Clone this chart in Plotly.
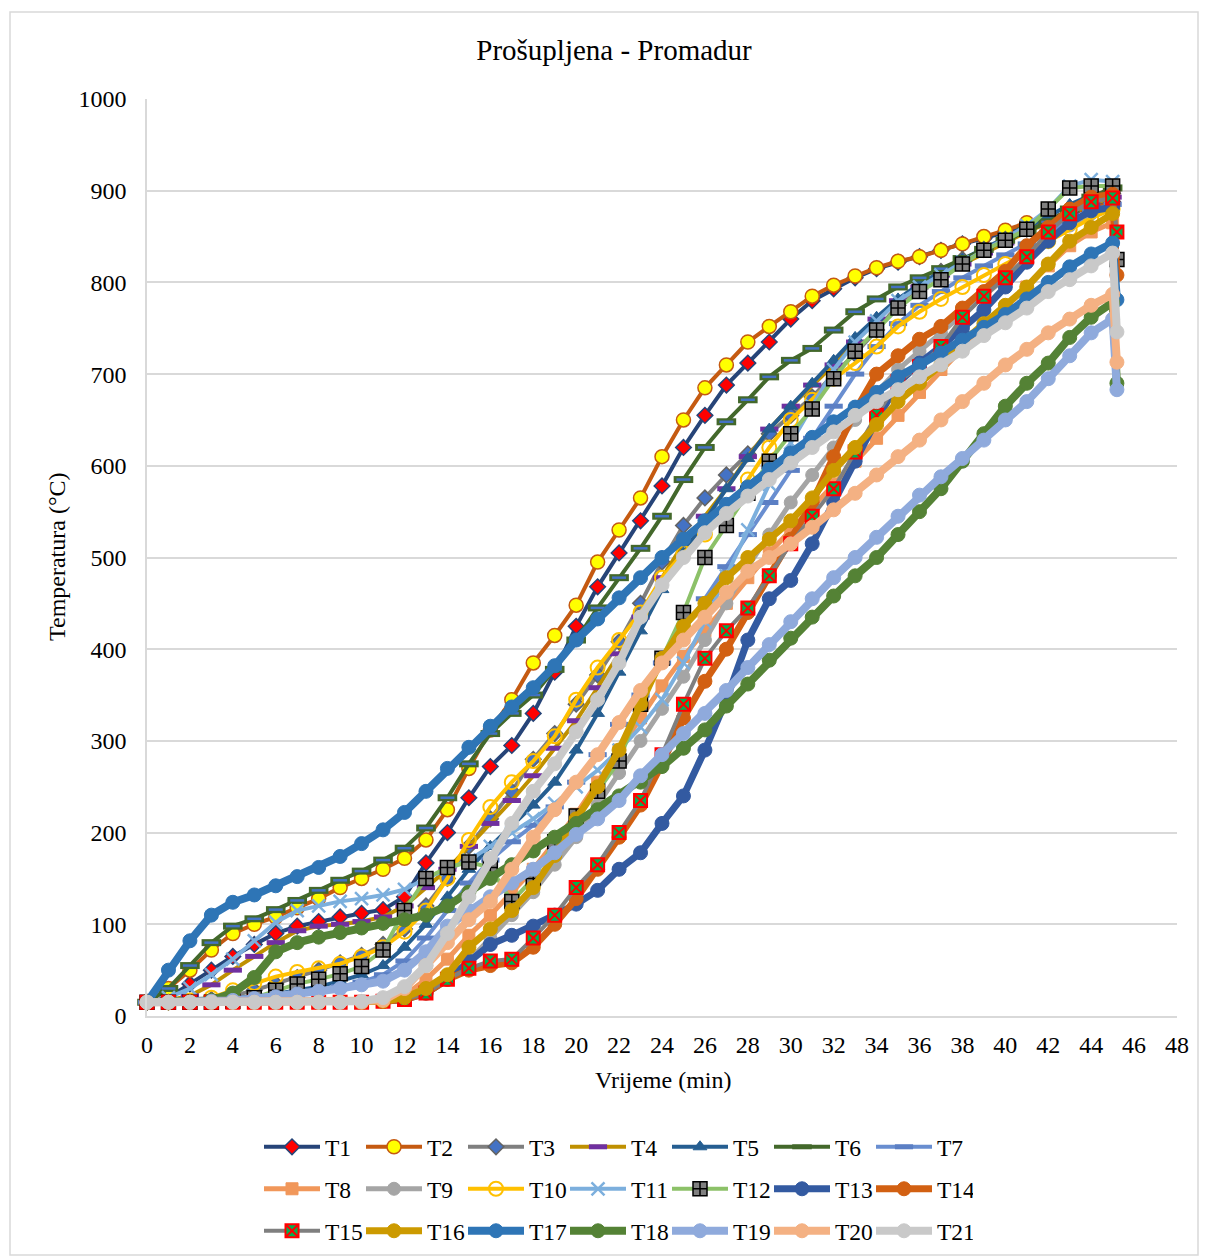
import plotly.graph_objects as go

minutes = list(range(46))
end_minute = 45.2

t1 = [15,20,35,50,65,78,90,98,103,108,112,116,130,167,200,238,272,295,330,375,425,468,505,540,578,620,655,688,712,735,760,780,793,805,815,822,828,835,842,848,855,862,868,875,882,888]
t2 = [15,30,50,72,90,100,108,118,128,140,150,160,172,192,225,270,312,345,385,415,448,495,530,565,610,650,685,710,735,752,768,785,797,807,816,823,828,835,842,850,857,865,870,876,882,886]
t3 = [15,15,16,18,22,28,35,42,50,58,66,78,95,120,150,185,215,245,280,308,340,372,408,450,495,535,565,590,613,635,655,675,700,722,748,775,797,812,825,836,847,858,868,878,888,897]
t4 = [15,17,22,34,50,65,80,93,98,100,103,108,120,140,160,185,210,235,262,292,322,358,395,435,478,515,545,575,610,640,665,688,710,735,760,780,795,808,820,832,843,855,865,875,885,893]
t5 = [15,15,16,17,19,21,24,28,32,38,45,55,75,100,130,160,185,208,230,255,290,330,375,420,465,505,540,575,608,640,665,690,715,740,762,782,798,812,825,837,848,860,872,885,895,900]
t6 = [15,30,55,80,98,106,116,126,137,148,158,170,183,205,238,275,308,330,350,378,410,445,478,510,545,585,620,648,672,697,715,728,748,768,782,795,805,815,826,836,846,856,866,880,893,903]
t7 = [15,15,15,16,17,19,22,25,28,32,37,45,60,85,115,145,170,190,208,228,255,285,318,350,385,420,455,490,525,560,595,630,665,700,730,755,775,790,805,818,830,842,855,868,878,885]
t8 = [15,15,15,15,15,15,15,15,15,15,15,16,22,40,62,88,110,135,160,190,220,255,290,325,360,392,420,450,478,505,530,555,580,605,630,655,680,705,728,750,772,795,818,840,855,865]
t9 = [15,15,15,15,15,15,15,15,15,15,15,16,18,25,40,60,85,110,135,165,195,230,265,300,335,370,410,450,490,525,560,590,620,650,680,705,725,745,765,785,805,825,845,862,875,882]
t10 = [15,15,17,20,28,36,43,48,52,57,65,75,92,115,150,192,228,255,278,305,345,380,410,440,478,505,525,552,585,620,650,672,695,712,730,752,768,782,795,808,820,832,845,858,870,880]
t11 = [15,20,30,45,62,82,102,115,120,125,128,132,138,150,160,170,185,200,215,232,250,268,290,315,345,385,430,480,530,580,625,665,705,735,758,780,795,808,822,835,848,862,880,905,912,910]
t12 = [15,15,15,15,16,20,28,35,40,46,54,72,115,150,162,168,162,125,150,190,218,245,278,340,390,440,500,535,570,605,635,662,695,725,748,772,790,803,820,835,846,858,880,903,905,905]
t13 = [15,15,15,15,15,15,15,15,15,15,15,16,18,25,40,60,78,88,98,110,122,137,160,178,210,240,290,345,410,455,475,515,560,605,650,690,712,730,750,770,795,822,845,865,878,882]
t14 = [15,15,15,15,15,15,15,15,15,15,15,16,18,25,40,50,55,58,75,100,128,160,195,230,275,325,365,400,440,480,520,560,610,660,700,720,738,752,772,790,812,840,860,880,893,896]
t15 = [15,15,15,15,15,15,15,15,15,15,15,16,18,25,40,52,60,62,85,110,140,165,200,235,285,340,390,420,445,480,515,545,575,615,655,692,708,730,762,785,805,828,855,875,888,892]
t16 = [15,15,15,15,15,15,15,15,15,15,15,16,20,30,45,75,95,115,140,175,215,250,290,340,390,425,450,478,500,520,540,565,595,620,645,670,690,710,735,755,775,795,820,845,860,875]
t17 = [15,50,82,110,124,132,142,152,162,174,188,203,222,245,270,293,316,337,358,382,410,433,456,478,500,520,540,558,577,596,614,631,648,664,680,697,710,723,737,751,765,782,800,817,831,843]
t18 = [15,15,15,17,25,42,70,80,86,91,96,101,105,110,120,135,150,165,180,195,210,225,240,255,272,292,312,338,362,388,412,435,458,480,500,525,550,575,605,635,665,690,712,740,762,778]
t19 = [15,15,15,16,17,19,21,24,27,30,34,38,50,70,98,115,130,145,160,178,198,215,235,262,285,308,330,355,380,405,430,455,478,500,522,545,568,588,608,628,650,670,695,720,745,760]
t20 = [15,15,15,15,15,15,15,15,15,15,15,17,30,55,80,105,125,160,195,225,255,285,320,355,385,410,435,462,485,500,515,533,552,570,590,610,628,650,670,690,710,727,745,760,775,787]
t21 = [15,15,15,15,15,15,15,15,15,15,16,20,32,55,90,130,172,210,245,275,310,345,385,435,470,500,527,548,567,585,603,620,637,655,670,683,697,710,725,742,756,772,790,803,818,832]

names = ["T%d" % i for i in range(1, 22)]
series = [t1, t2, t3, t4, t5, t6, t7, t8, t9, t10, t11, t12, t13, t14, t15, t16, t17, t18, t19, t20, t21]
# final reading (drop) at end_minute, None where the series has none
end_temps = [None, None, None, None, None, None, None, None, None, None, None, 825,
             None, 808, 855, None, 781, 690, 683, 713, 746]

styles = [
    dict(lc='#264478', lw=4, sym='diamond', fc='#FF0000', ml='#264478', mw=1.5, sz=12),
    dict(lc='#C55A11', lw=4, sym='circle', fc='#FFFF00', ml='#C55A11', mw=1.5, sz=14),
    dict(lc='#7F7F7F', lw=4, sym='diamond', fc='#4472C4', ml='#636363', mw=1.5, sz=12),
    dict(lc='#BF9000', lw=4, sym='line-ew', fc='#7030A0', ml='#7030A0', mw=5, sz=13),
    dict(lc='#255E91', lw=4, sym='triangle-up', fc='#255E91', ml='#255E91', mw=1, sz=12),
    dict(lc='#43682B', lw=4, sym='line-ew', fc='#43682B', ml='#43682B', mw=7, sz=14),
    dict(lc='#698ED0', lw=4, sym='line-ew', fc='#5B7FC4', ml='#5B7FC4', mw=5, sz=13),
    dict(lc='#F1975A', lw=5, sym='square', fc='#F1975A', ml='#F1975A', mw=1, sz=12),
    dict(lc='#A5A5A5', lw=5, sym='circle', fc='#A5A5A5', ml='#A5A5A5', mw=1, sz=13),
    dict(lc='#FFC000', lw=4, sym='circle-open', fc='#FFC000', ml='#FFC000', mw=2, sz=14),
    dict(lc='#7CAFDD', lw=4, sym='x-thin', fc='#7CAFDD', ml='#7CAFDD', mw=2.5, sz=13),
    dict(lc='#8CC168', lw=4, sym='square-cross', fc='#808080', ml='#000000', mw=1.5, sz=14),
    dict(lc='#335AA1', lw=7, sym='circle', fc='#335AA1', ml='#335AA1', mw=1, sz=14),
    dict(lc='#D26012', lw=7, sym='circle', fc='#D26012', ml='#D26012', mw=1, sz=14),
    dict(lc='#7F7F7F', lw=4, sym='square-x', fc='#00B050', ml='#FF0000', mw=2, sz=13),
    dict(lc='#CC9A00', lw=7, sym='circle', fc='#CC9A00', ml='#CC9A00', mw=1, sz=14),
    dict(lc='#2E75B6', lw=8, sym='circle', fc='#2E75B6', ml='#2E75B6', mw=1, sz=14),
    dict(lc='#548235', lw=8, sym='circle', fc='#548235', ml='#548235', mw=1, sz=14),
    dict(lc='#8FAADC', lw=8, sym='circle', fc='#8FAADC', ml='#8FAADC', mw=1, sz=14),
    dict(lc='#F4B183', lw=8, sym='circle', fc='#F4B183', ml='#F4B183', mw=1, sz=14),
    dict(lc='#C9C9C9', lw=8, sym='circle', fc='#C9C9C9', ml='#C9C9C9', mw=1, sz=14),
]

FONT = "Times New Roman, Liberation Serif, serif"
fig = go.Figure()

for i, (name, vals, endv, st) in enumerate(zip(names, series, end_temps, styles)):
    xs = list(minutes)
    ys = list(vals)
    if endv is not None:
        xs.append(end_minute)
        ys.append(endv)
    legend_id = ['legend', 'legend2', 'legend3'][i // 7]
    fig.add_trace(go.Scatter(
        x=xs, y=ys, name=name, mode='lines+markers', legend=legend_id,
        line=dict(color=st['lc'], width=st['lw']),
        marker=dict(symbol=st['sym'], color=st['fc'], size=st['sz'],
                    line=dict(color=st['ml'], width=st['mw'])),
        cliponaxis=False,
    ))
    if name == 'T6':
        fig.add_trace(go.Scatter(
            x=xs, y=ys, mode='markers', showlegend=False, hoverinfo='skip',
            marker=dict(symbol='line-ew', color='#4472C4', size=10,
                        line=dict(color='#4472C4', width=2.5)),
            cliponaxis=False,
        ))

# page is offset by the browser's 8px body margin
OFF = 8
W, H = 1200, 1249
PL, PT, PR, PB = 147 - OFF, 99 - OFF, 1177 - OFF, 1016 - OFF


def px_to_paper_y(py):
    return (1016 - py) / 917.0


def px_to_paper_x(pxv):
    return (pxv - 147) / 1030.0


legend_common = dict(orientation='h', xanchor='center', yanchor='middle',
                     x=px_to_paper_x(616), entrywidth=31, entrywidthmode='pixels',
                     font=dict(family=FONT, size=23.5, color='#000000'),
                     bgcolor='rgba(0,0,0,0)', itemwidth=56, tracegroupgap=0)

fig.update_layout(
    width=W, height=H,
    margin=dict(l=PL, r=W - PR, t=PT, b=H - PB, autoexpand=False),
    paper_bgcolor='white', plot_bgcolor='white',
    font=dict(family=FONT, size=24, color='#000000'),
    title=dict(text='Prošupljena - Promadur', x=(614 - OFF) / W, xref='container',
               xanchor='center', y=1 - (50 - OFF) / H, yanchor='middle', yref='container',
               font=dict(family=FONT, size=29, color='#000000')),
    xaxis=dict(range=[0, 48], dtick=2, tick0=0, showgrid=False, zeroline=False,
               showline=True, linecolor='#D9D9D9', linewidth=1.5, ticks='',
               tickfont=dict(family=FONT, size=24), ticklabelstandoff=6),
    yaxis=dict(range=[0, 1000], dtick=100, tick0=0, showgrid=True,
               gridcolor='#D9D9D9', gridwidth=1.5, zeroline=False,
               showline=True, linecolor='#D9D9D9', linewidth=1.5, ticks='',
               tickfont=dict(family=FONT, size=24), ticklabelstandoff=14),
    legend=dict(legend_common, y=px_to_paper_y(1147)),
    legend2=dict(legend_common, y=px_to_paper_y(1189)),
    legend3=dict(legend_common, y=px_to_paper_y(1231)),
    showlegend=True,
    annotations=[
        dict(text='Vrijeme (min)', xref='paper', yref='paper', x=px_to_paper_x(663),
             y=px_to_paper_y(1080), showarrow=False, xanchor='center', yanchor='middle',
             font=dict(family=FONT, size=24)),
        dict(text='Temperatura (°C)', xref='paper', yref='paper',
             x=px_to_paper_x(57), y=px_to_paper_y(557), textangle=-90, showarrow=False,
             xanchor='center', yanchor='middle', font=dict(family=FONT, size=24)),
    ],
    shapes=[dict(type='rect', xref='paper', yref='paper',
                 x0=px_to_paper_x(10), x1=px_to_paper_x(1198),
                 y0=px_to_paper_y(1255), y1=px_to_paper_y(12),
                 line=dict(color='#D9D9D9', width=1.5), fillcolor='rgba(0,0,0,0)',
                 layer='below')],
)

fig.write_html("out.html")
